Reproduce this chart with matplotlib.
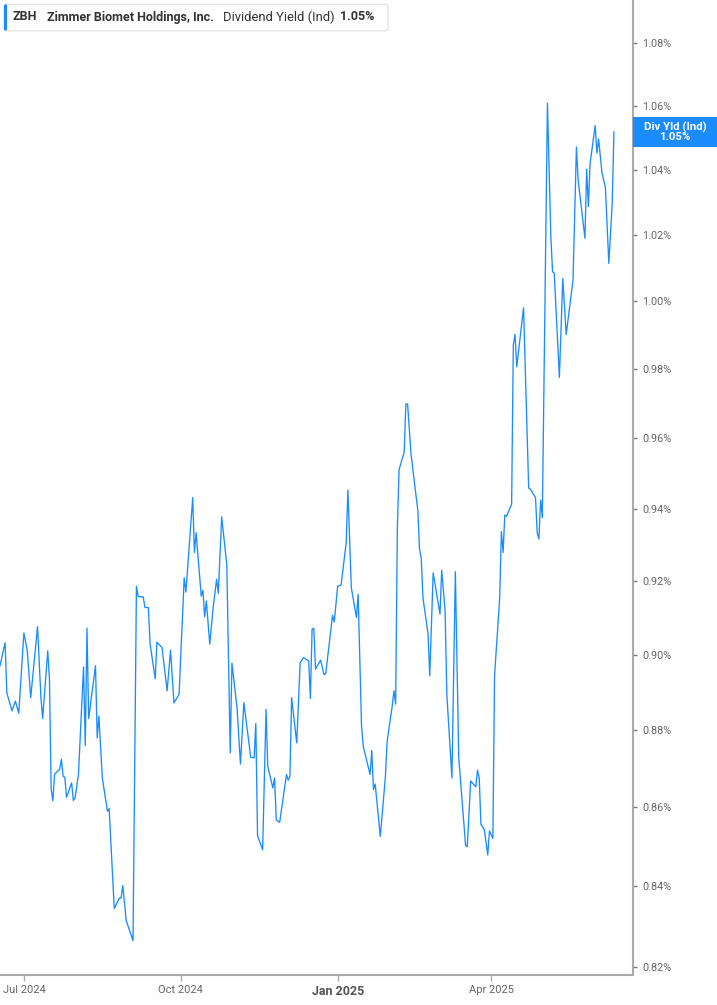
import numpy as np
import pandas as pd
import matplotlib
matplotlib.use("Agg")
import matplotlib.pyplot as plt
from matplotlib.patches import Rectangle, FancyBboxPatch
from matplotlib.ticker import FixedLocator, FuncFormatter, NullLocator, NullFormatter
from matplotlib.transforms import IdentityTransform

##### Datos: rendimiento de dividendo (%) #####
dates = [
    "2024-06-17", "2024-06-20", "2024-06-21", "2024-06-24", "2024-06-26", "2024-06-28",
    "2024-07-01", "2024-07-03", "2024-07-05", "2024-07-09", "2024-07-11", "2024-07-12",
    "2024-07-15", "2024-07-16", "2024-07-17", "2024-07-18", "2024-07-19", "2024-07-22",
    "2024-07-23", "2024-07-24", "2024-07-25", "2024-07-26", "2024-07-29", "2024-07-30",
    "2024-07-31", "2024-08-02", "2024-08-05", "2024-08-06", "2024-08-07", "2024-08-08",
    "2024-08-12", "2024-08-13", "2024-08-14", "2024-08-16", "2024-08-19", "2024-08-20",
    "2024-08-23", "2024-08-26", "2024-08-27", "2024-08-28", "2024-08-30", "2024-09-03",
    "2024-09-05", "2024-09-06", "2024-09-09", "2024-09-10", "2024-09-12", "2024-09-13",
    "2024-09-16", "2024-09-17", "2024-09-20", "2024-09-23", "2024-09-25", "2024-09-27",
    "2024-09-30", "2024-10-03", "2024-10-04", "2024-10-08", "2024-10-09", "2024-10-10",
    "2024-10-13", "2024-10-14", "2024-10-15", "2024-10-16", "2024-10-18", "2024-10-20",
    "2024-10-22", "2024-10-23", "2024-10-25", "2024-10-28", "2024-10-30", "2024-10-31",
    "2024-11-03", "2024-11-05", "2024-11-07", "2024-11-11", "2024-11-13", "2024-11-14",
    "2024-11-15", "2024-11-18", "2024-11-20", "2024-11-21", "2024-11-24", "2024-11-25",
    "2024-11-26", "2024-11-28", "2024-12-02", "2024-12-03", "2024-12-04", "2024-12-05",
    "2024-12-08", "2024-12-10", "2024-12-12", "2024-12-15", "2024-12-16", "2024-12-17",
    "2024-12-18", "2024-12-19", "2024-12-22", "2024-12-24", "2024-12-25", "2024-12-29",
    "2024-12-30", "2025-01-01", "2025-01-03", "2025-01-06", "2025-01-07", "2025-01-09",
    "2025-01-12", "2025-01-13", "2025-01-15", "2025-01-16", "2025-01-20", "2025-01-21",
    "2025-01-22", "2025-01-23", "2025-01-26", "2025-01-29", "2025-01-30", "2025-02-02",
    "2025-02-03", "2025-02-04", "2025-02-05", "2025-02-06", "2025-02-09", "2025-02-10",
    "2025-02-11", "2025-02-13", "2025-02-17", "2025-02-18", "2025-02-19", "2025-02-20",
    "2025-02-23", "2025-02-24", "2025-02-26", "2025-03-02", "2025-03-03", "2025-03-05",
    "2025-03-06", "2025-03-09", "2025-03-11", "2025-03-13", "2025-03-17", "2025-03-18",
    "2025-03-20", "2025-03-23", "2025-03-24", "2025-03-25", "2025-03-26", "2025-03-28",
    "2025-03-30", "2025-03-31", "2025-04-02", "2025-04-03", "2025-04-06", "2025-04-07",
    "2025-04-08", "2025-04-09", "2025-04-10", "2025-04-13", "2025-04-14", "2025-04-15",
    "2025-04-16", "2025-04-20", "2025-04-23", "2025-04-24", "2025-04-27", "2025-04-28",
    "2025-04-29", "2025-04-30", "2025-05-01", "2025-05-04", "2025-05-06", "2025-05-07",
    "2025-05-08", "2025-05-11", "2025-05-13", "2025-05-15", "2025-05-19", "2025-05-21",
    "2025-05-22", "2025-05-26", "2025-05-27", "2025-05-28", "2025-05-29", "2025-06-01",
    "2025-06-02", "2025-06-03", "2025-06-05", "2025-06-07", "2025-06-09", "2025-06-11",
    "2025-06-12",
]
yield_pct = [
    0.8971, 0.9033, 0.8899, 0.8851, 0.8877, 0.8845,
    0.9059, 0.9011, 0.8886, 0.9076, 0.8886, 0.8831,
    0.9011, 0.8935, 0.8646, 0.8617, 0.8686, 0.8698,
    0.8725, 0.8680, 0.8678, 0.8626, 0.8663, 0.8618,
    0.8624, 0.8685, 0.8968, 0.8760, 0.9072, 0.8831,
    0.8971, 0.8780, 0.8837, 0.8676, 0.8590, 0.8597,
    0.8345, 0.8371, 0.8371, 0.8402, 0.8315, 0.8265,
    0.9186, 0.9158, 0.9157, 0.9128, 0.9128, 0.9030,
    0.8936, 0.9034, 0.9020, 0.8904, 0.9013, 0.8872,
    0.8895, 0.9209, 0.9170, 0.9432, 0.9279, 0.9334,
    0.9159, 0.9175, 0.9103, 0.9146, 0.9029, 0.9128,
    0.9205, 0.9167, 0.9378, 0.9244, 0.8741, 0.8978,
    0.8859, 0.8712, 0.8873, 0.8730, 0.8728, 0.8818,
    0.8528, 0.8492, 0.8855, 0.8706, 0.8650, 0.8676,
    0.8568, 0.8562, 0.8685, 0.8670, 0.8680, 0.8886,
    0.8767, 0.8979, 0.8993, 0.8984, 0.8884, 0.9069,
    0.9072, 0.8962, 0.8986, 0.8947, 0.8950, 0.9107,
    0.9089, 0.9186, 0.9189, 0.9306, 0.9453, 0.9182,
    0.9101, 0.9164, 0.8811, 0.8758, 0.8685, 0.8747,
    0.8646, 0.8660, 0.8526, 0.8680, 0.8771, 0.8864,
    0.8904, 0.8869, 0.9348, 0.9511, 0.9561, 0.9699,
    0.9699, 0.9556, 0.9396, 0.9288, 0.9264, 0.9155,
    0.9056, 0.8944, 0.9223, 0.9110, 0.9230, 0.9119,
    0.8895, 0.8676, 0.9226, 0.8728, 0.8503, 0.8500,
    0.8668, 0.8653, 0.8696, 0.8676, 0.8557, 0.8543,
    0.8479, 0.8540, 0.8521, 0.8944, 0.9155, 0.9337,
    0.9279, 0.9383, 0.9380, 0.9413, 0.9871, 0.9902,
    0.9807, 0.9981, 0.9459, 0.9456, 0.9432, 0.9334,
    0.9316, 0.9425, 0.9376, 1.0609, 1.0195, 1.0089,
    1.0084, 0.9776, 1.0069, 0.9902, 1.0064, 1.0471,
    1.0369, 1.0190, 1.0402, 1.0287, 1.0419, 1.0538,
    1.0452, 1.0496, 1.0390, 1.0346, 1.0114, 1.0298,
    1.0518,
]
ytick_vals = [0.82, 0.84, 0.86, 0.88, 0.90, 0.92, 0.94, 0.96, 0.98, 1.00, 1.02, 1.04, 1.06, 1.08]
xtick_dates = ["2024-07-01", "2024-10-01", "2025-01-01", "2025-04-01"]
xtick_labels = ["Jul 2024", "Oct 2024", "Jan 2025", "Apr 2025"]

ticker = "ZBH"
company = "Zimmer Biomet Holdings, Inc."
metric = "Dividend Yield (Ind)"
metric_short = "Div Yld (Ind)"
last_txt = "1.05%"

BLUE = "#1a8cff"
W, H = 717, 1005

plt.rcParams["font.family"] = ["Roboto", "DejaVu Sans"]
fig = plt.figure(figsize=(W / 100, H / 100), dpi=100)
fig.patch.set_facecolor("white")
ax = fig.add_axes([0, 30 / H, 632.7 / W, 975 / H])

t = pd.to_datetime(dates)
ax.plot(t, yield_pct, color=BLUE, lw=0.95)

ax.set_yscale("log")
ax.set_ylim(0.8181, 1.094)
ax.set_xlim(pd.Timestamp("2024-06-17"), pd.Timestamp("2025-06-23"))

ax.yaxis.set_major_locator(FixedLocator(ytick_vals))
ax.yaxis.set_minor_locator(NullLocator())
ax.yaxis.set_minor_formatter(NullFormatter())
ax.yaxis.set_major_formatter(FuncFormatter(lambda v, p: f"{v:.2f}%"))
ax.yaxis.tick_right()
ax.tick_params(axis="y", length=3, width=1, color="#777777", labelcolor="#666666",
               labelsize=7.8, pad=4)

ax.set_xticks(pd.to_datetime(xtick_dates))
ax.set_xticklabels(xtick_labels)
ax.tick_params(axis="x", length=4, width=1, color="#aaaaaa", labelcolor="#666666",
               labelsize=8, pad=3)
jan = ax.get_xticklabels()[2]
jan.set_fontweight("bold")
jan.set_fontsize(9)
jan.set_color("#555555")

for s in ["left", "top"]:
    ax.spines[s].set_visible(False)
for s in ["right", "bottom"]:
    ax.spines[s].set_color("#aaaaaa")
    ax.spines[s].set_linewidth(1.5)

##### Etiqueta del último valor #####
xl = ax.transData.transform((ax.get_xlim()[1], yield_pct[-1]))
yc = xl[1]
x0 = xl[0]
fig.add_artist(Rectangle((x0, yc - 14.7), W - x0, 29.4, transform=IdentityTransform(),
                         facecolor=BLUE, edgecolor="none"))
xm = (x0 + W) / 2
fig.text(xm / W, (yc + 5) / H, metric_short, color="white", fontsize=8.2,
         fontweight="bold", ha="center", va="center")
fig.text(xm / W, (yc - 5.5) / H, last_txt, color="white", fontsize=8.2,
         fontweight="bold", ha="center", va="center")

##### Leyenda #####
fig.add_artist(FancyBboxPatch((4, H - 30.7), 384, 26.4, boxstyle="round,pad=0,rounding_size=3",
                              transform=IdentityTransform(), facecolor="white",
                              edgecolor="#e3e3e3", lw=1))
fig.add_artist(FancyBboxPatch((4, H - 30.7), 3, 26.4, boxstyle="round,pad=0,rounding_size=1.5",
                              transform=IdentityTransform(), facecolor=BLUE, edgecolor="none"))
ly = 1 - 17 / H
fig.text(12.7 / W, ly, ticker, fontsize=9, fontweight="bold", color="#333333", va="center")
fig.text(46.7 / W, ly, company, fontsize=9, fontweight="bold", color="#333333", va="center")
fig.text(222.7 / W, ly, metric, fontsize=9.4, color="#333333", va="center")
fig.text(340 / W, ly, last_txt, fontsize=9, fontweight="bold", color="#333333", va="center")

plt.savefig("out.png", dpi=100, facecolor="white")
